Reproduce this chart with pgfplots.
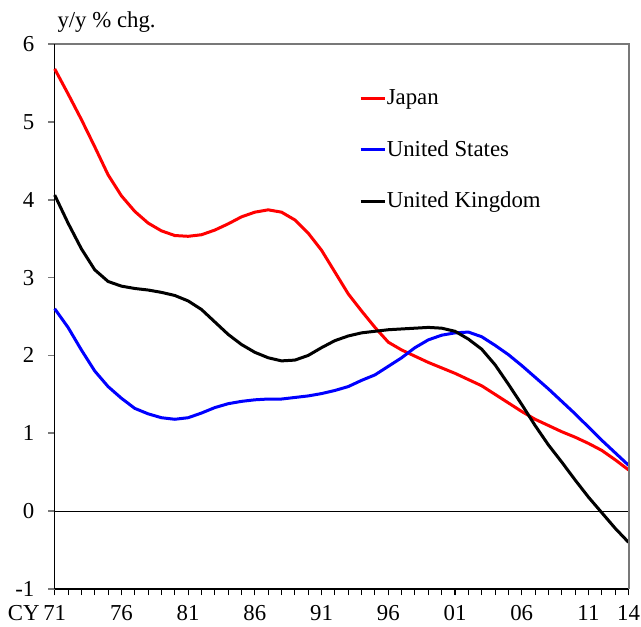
\documentclass[border=0pt]{standalone}
\usepackage{pgfplots}
\pgfplotsset{compat=1.18}
\usepackage{pgfplotstable}
\usepackage{fontspec}
\setmainfont{Liberation Serif}
\definecolor{jpred}{RGB}{255,0,0}
\definecolor{usblue}{RGB}{0,0,255}
\definecolor{axgray}{RGB}{120,120,120}

\pgfplotstableread{
year jp us uk
1971 5.68 2.60 4.06
1972 5.36 2.36 3.70
1973 5.03 2.07 3.37
1974 4.68 1.80 3.10
1975 4.32 1.60 2.95
1976 4.05 1.45 2.89
1977 3.85 1.32 2.86
1978 3.70 1.25 2.84
1979 3.60 1.20 2.81
1980 3.54 1.18 2.77
1981 3.53 1.20 2.70
1982 3.55 1.26 2.59
1983 3.61 1.33 2.43
1984 3.69 1.38 2.27
1985 3.78 1.41 2.14
1986 3.84 1.43 2.04
1987 3.87 1.44 1.97
1988 3.84 1.44 1.93
1989 3.74 1.46 1.94
1990 3.57 1.48 2.00
1991 3.35 1.51 2.10
1992 3.07 1.55 2.19
1993 2.79 1.60 2.25
1994 2.57 1.68 2.29
1995 2.36 1.75 2.31
1996 2.17 1.86 2.33
1997 2.07 1.97 2.34
1998 1.99 2.10 2.35
1999 1.91 2.20 2.36
2000 1.84 2.26 2.35
2001 1.77 2.29 2.31
2002 1.69 2.30 2.21
2003 1.61 2.24 2.08
2004 1.50 2.13 1.88
2005 1.39 2.01 1.63
2006 1.28 1.87 1.37
2007 1.18 1.72 1.10
2008 1.10 1.57 0.85
2009 1.02 1.41 0.63
2010 0.95 1.25 0.40
2011 0.87 1.08 0.18
2012 0.78 0.91 -0.02
2013 0.66 0.75 -0.22
2014 0.53 0.59 -0.40
}\datatable

\begin{document}
\fontsize{11.4}{13.7}\selectfont
\begin{tikzpicture}
\begin{axis}[
  at={(0,0)}, anchor=south west,
  scale only axis,
  width=286.9pt, height=272.5pt,
  xmin=1971, xmax=2014, ymin=-1, ymax=6,
  axis lines=left,
  axis line style={-, black, line width=0.8pt},
  tick align=outside,
  major tick length=3.2pt, minor tick length=3pt,
  xtick={1971,1976,1981,1986,1991,1996,2001,2006,2011,2014},
  xticklabels={\llap{CY\,}71,76,81,86,91,96,01,06,11,14},
  minor xtick={1972,...,2013},
  ytick={-1,0,...,6},
  yticklabels={-1,0,1,2,3,4,5,6},
  x tick style={black, line width=0.5pt},
  y tick style={axgray, line width=0.8pt},
  tick label style={font=\fontsize{11.4}{13.7}\selectfont},
  xticklabel style={inner ysep=0.5pt, yshift=-4.4pt},
  yticklabel style={xshift=-3pt},
  /pgf/number format/assume math mode=true,
  legend cell align=left,
  legend style={draw=none, fill=none, at={(axis description cs:0.530,0.921)}, anchor=north west,
    font=\fontsize{11.4}{13.7}\selectfont, row sep=14.2pt, inner sep=0pt,
    nodes={inner xsep=0.3pt, inner ysep=1pt}},
  legend image code/.code={\draw[#1, line width=1.5pt] (0pt,0pt) -- (12pt,0pt);},
  clip=false,
]
\addplot[black, line width=0.5pt, forget plot] coordinates {(1971,0) (2014,0)};
\addplot[jpred, line width=1.5pt] table[x=year, y=jp] {\datatable};
\addlegendentry{Japan}
\addplot[usblue, line width=1.5pt] table[x=year, y=us] {\datatable};
\addlegendentry{United States}
\addplot[black, line width=1.5pt] table[x=year, y=uk] {\datatable};
\addlegendentry{United Kingdom}
\draw[axgray, line width=1pt] (rel axis cs:0,1) -- (rel axis cs:1,1) -- (rel axis cs:1,0);
\end{axis}
\node[anchor=base west, inner sep=0pt] at (1.2pt,280.5pt) {y/y \% chg.};
\pgfresetboundingbox
\path (-27.35pt,-18.5pt) rectangle (293.15pt,294.5pt);
\end{tikzpicture}
\end{document}
